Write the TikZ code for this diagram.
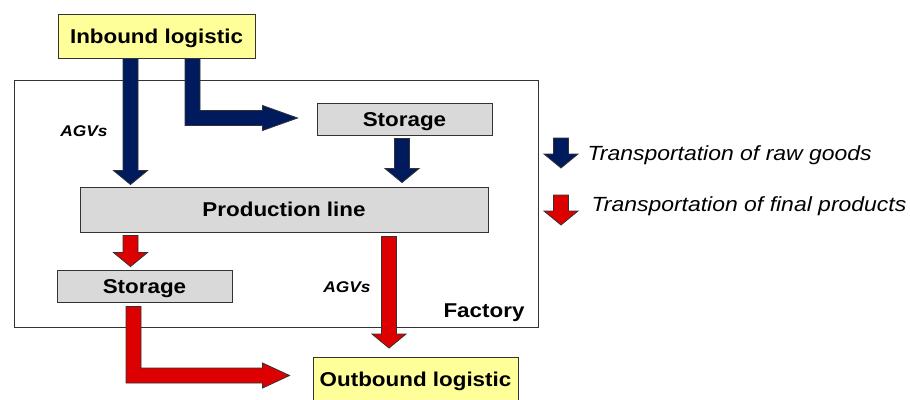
\documentclass[tikz,border=0pt]{standalone}
\usepackage{fontspec}
\setmainfont{Liberation Sans}
\newfontfamily\boxfont[FakeStretch=1.12]{Liberation Sans}
\usepackage{tikz}
\usetikzlibrary{positioning,calc}
\definecolor{flowblue}{HTML}{001A5E}
\definecolor{flowred}{HTML}{DD0000}
\definecolor{boxyellow}{HTML}{FFFF99}
\definecolor{boxgray}{HTML}{D9D9D9}
\definecolor{edgegray}{HTML}{333333}
\tikzstyle{flowline} = [draw=edgegray, line width=0.8pt, line join=miter]

% straight block arrow, downwards: colour, top point, tip point
\newcommand{\downflow}[3]{%
  \filldraw[flowline, fill=#1] let \p1=#2, \p2=#3 in
    ({\x2-7.5pt},\y1) -- ({\x2-7.5pt},{\y2+14pt}) -- ({\x2-17pt},{\y2+14pt}) -- (\x2,\y2)
    -- ({\x2+17pt},{\y2+14pt}) -- ({\x2+7.5pt},{\y2+14pt}) -- ({\x2+7.5pt},\y1) -- cycle;}

% bent block arrow, down then right: colour, top point, tip point, head length
\newcommand{\bentflow}[4]{%
  \filldraw[flowline, fill=#1] let \p1=#2, \p2=#3 in
    ({\x1-7.5pt},\y1) -- ({\x1-7.5pt},{\y2-7.5pt}) -- ({\x2-#4},{\y2-7.5pt}) -- ({\x2-#4},{\y2-12.5pt})
    -- (\x2,\y2) -- ({\x2-#4},{\y2+12.5pt}) -- ({\x2-#4},{\y2+7.5pt}) -- ({\x1+7.5pt},{\y2+7.5pt})
    -- ({\x1+7.5pt},\y1) -- cycle;}

\begin{document}
\begin{tikzpicture}[x=1pt, y=-1pt,
    block/.style={draw=edgegray, line width=0.9pt, inner sep=0pt, anchor=center, align=center,
      text height=15pt, text depth=0.7pt,
      font=\boxfont\bfseries\fontsize{20}{24}\selectfont},
    logistic/.style={block, fill=boxyellow, minimum width=#1, minimum height=44pt},
    stage/.style={block, fill=boxgray, minimum width=#1},
    agv/.style={font=\boxfont\bfseries\itshape\fontsize{15.5}{18}\selectfont},
    legend/.style={anchor=west, font=\boxfont\itshape\fontsize{20.5}{25}\selectfont}]
  \useasboundingbox (0,0) rectangle (910,399);

  % FACTORY
  \node [draw=edgegray, line width=0.9pt, minimum width=524pt, minimum height=247pt] (factory) at (276,203.5) {};
  \node [block, draw=none, anchor=center] (factorylabel) at (484,310) {Factory};

  % BOXES
  \node [logistic=197pt] (in) at (156.5,36) {Inbound logistic};
  \node [stage=175pt, minimum height=32pt] (storein) at (404.5,119) {Storage};
  \node [stage=408pt, minimum height=45pt] (prod) at (284,209.5) {Production line};
  \node [stage=175pt, minimum height=32pt] (storeout) at (144.5,286) {Storage};
  \node [logistic=205pt] (out) at (415.5,379.5) {Outbound logistic};

  % RAW GOODS
  \coordinate (b1) at ($(in.south)+(-26,0)$);
  \downflow{flowblue}{(b1)}{($(b1 |- prod.north)+(0,-2)$)}
  \bentflow{flowblue}{($(in.south)+(36,0)$)}{($(storein.west)+(-19,-1)$)}{35pt}
  \coordinate (b3) at ($(storein.south)+(-2.5,3)$);
  \downflow{flowblue}{(b3)}{($(b3 |- prod.north)+(0,-4)$)}

  % FINAL PRODUCTS
  \coordinate (r1) at ($(prod.south)+(-153.5,3)$);
  \downflow{flowred}{(r1)}{($(r1 |- storeout.north)+(0,-3)$)}
  \bentflow{flowred}{($(storeout.south)+(-11,4)$)}{($(out.west)+(-23,-4)$)}{27pt}
  \coordinate (r3) at ($(prod.south)+(105,4)$);
  \downflow{flowred}{(r3)}{($(r3 |- out.north)+(0,-9)$)}

  \node [agv] (agvin) at (84,131) {AGVs};
  \node [agv] (agvout) at (347,287) {AGVs};

  % LEGEND
  \node [legend] (legraw) at (584,155) {Transportation of raw goods};
  \node [legend] (legfinal) at (588,206) {Transportation of final products};
  \downflow{flowblue}{($(legraw.west)+(-23,-17)$)}{($(legraw.west)+(-23,13)$)}
  \downflow{flowred}{($(legfinal.west)+(-27,-11)$)}{($(legfinal.west)+(-27,19)$)}
\end{tikzpicture}
\end{document}
